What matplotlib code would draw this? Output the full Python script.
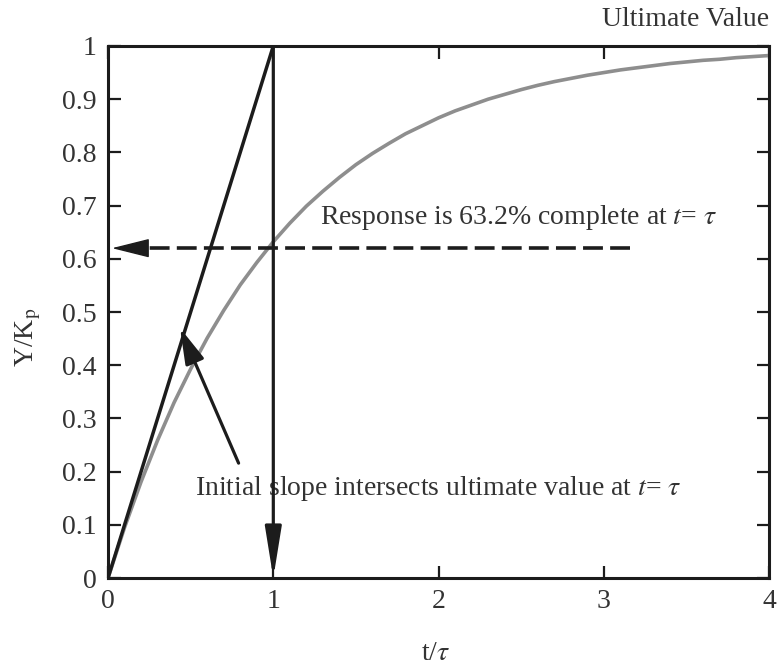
import numpy as np
import matplotlib
matplotlib.use("Agg")
import matplotlib.pyplot as plt
from matplotlib.patches import FancyArrowPatch

plt.rcParams['font.family'] = ['Liberation Serif', 'DejaVu Serif']
plt.rcParams['mathtext.fontset'] = 'stix'

# first-order step response, Y/Kp against t/tau
t_tau = [0.0, 0.1, 0.2, 0.3, 0.4, 0.5, 0.6, 0.7, 0.8, 0.9,
         1.0, 1.1, 1.2, 1.3, 1.4, 1.5, 1.6, 1.7, 1.8, 1.9,
         2.0, 2.1, 2.2, 2.3, 2.4, 2.5, 2.6, 2.7, 2.8, 2.9,
         3.0, 3.1, 3.2, 3.3, 3.4, 3.5, 3.6, 3.7, 3.8, 3.9, 4.0]
y_kp = [0.000, 0.095, 0.181, 0.259, 0.330, 0.393, 0.451, 0.503, 0.551, 0.593,
        0.632, 0.667, 0.699, 0.727, 0.753, 0.777, 0.798, 0.817, 0.835, 0.850,
        0.865, 0.878, 0.889, 0.900, 0.909, 0.918, 0.926, 0.933, 0.939, 0.945,
        0.950, 0.955, 0.959, 0.963, 0.967, 0.970, 0.973, 0.975, 0.978, 0.980, 0.982]

# initial slope line and the drop at t = tau
slope_x = [0.0, 1.0]
slope_y = [0.0, 1.0]
drop_top = (1.0, 1.0)
drop_tip = (1.0, 0.0)

# dashed marker at 63.2 %
mark_y = 0.62
mark_x_start = 3.16
mark_head_base = 0.235
mark_tip = 0.024

# pointer for the slope note
pointer_tail = (0.79, 0.216)
pointer_tip = (0.436, 0.470)

x_ticks = [0, 1, 2, 3, 4]
y_ticks = [0, 0.1, 0.2, 0.3, 0.4, 0.5, 0.6, 0.7, 0.8, 0.9, 1.0]
y_tick_labels = ['0', '0.1', '0.2', '0.3', '0.4', '0.5', '0.6', '0.7', '0.8', '0.9', '1']

ink = '#1c1c1c'
text_col = '#333333'
curve_col = '#8e8e8e'
fs = 20

fig = plt.figure(figsize=(7.77, 6.66), dpi=100)
ax = fig.add_axes([0.139, 0.132, 0.851, 0.799])

ax.plot(t_tau, y_kp, color=curve_col, lw=2.6, zorder=2)
ax.plot(slope_x, slope_y, color=ink, lw=2.5, zorder=3, solid_capstyle='butt')

# vertical line with arrowhead at the bottom
ax.add_patch(FancyArrowPatch(drop_top, drop_tip, arrowstyle='-|>,head_length=31,head_width=5',
                             mutation_scale=1, color=ink, lw=2.3, shrinkA=0, shrinkB=0, zorder=4))

# dashed horizontal line and its solid head
ax.plot([mark_x_start, mark_head_base], [mark_y, mark_y], color=ink, lw=2.6,
        dashes=(5.5, 2.0), zorder=4)
ax.add_patch(FancyArrowPatch((mark_head_base, mark_y), (mark_tip, mark_y),
                             arrowstyle='-|>,head_length=24,head_width=6',
                             mutation_scale=1, color=ink, lw=1, shrinkA=0, shrinkB=0, zorder=4))

ax.add_patch(FancyArrowPatch(pointer_tail, pointer_tip, arrowstyle='-|>,head_length=22,head_width=6',
                             mutation_scale=1, color=ink, lw=2.3, shrinkA=0, shrinkB=0, zorder=4))

ax.text(1.283, 0.677, r'Response is 63.2% complete at $t$= $\tau$', fontsize=fs,
        color=text_col, va='center', ha='left')
ax.text(0.526, 0.169, r'Initial slope intersects ultimate value at $t$= $\tau$', fontsize=fs,
        color=text_col, va='center', ha='left')
ax.text(4.0, 1.049, 'Ultimate Value', fontsize=fs, color=text_col, va='center', ha='right',
        clip_on=False)

ax.set_xlim(0, 4)
ax.set_ylim(0, 1)
ax.set_xticks(x_ticks)
ax.set_yticks(y_ticks)
ax.set_yticklabels(y_tick_labels)
ax.tick_params(direction='in', length=9, width=1.6, top=True, right=True,
               labelsize=fs, labelcolor=text_col, color=ink, pad=8)
for s in ax.spines.values():
    s.set_linewidth(2.2)
    s.set_color(ink)

ax.set_xlabel(r't/$\tau$', fontsize=fs, color=text_col)
ax.set_ylabel(r'Y/K$_\mathrm{p}$', fontsize=fs, color=text_col)
ax.xaxis.set_label_coords(0.496, -0.118)
ax.yaxis.set_label_coords(-0.098, 0.453)

fig.savefig('out.png', dpi=100)
